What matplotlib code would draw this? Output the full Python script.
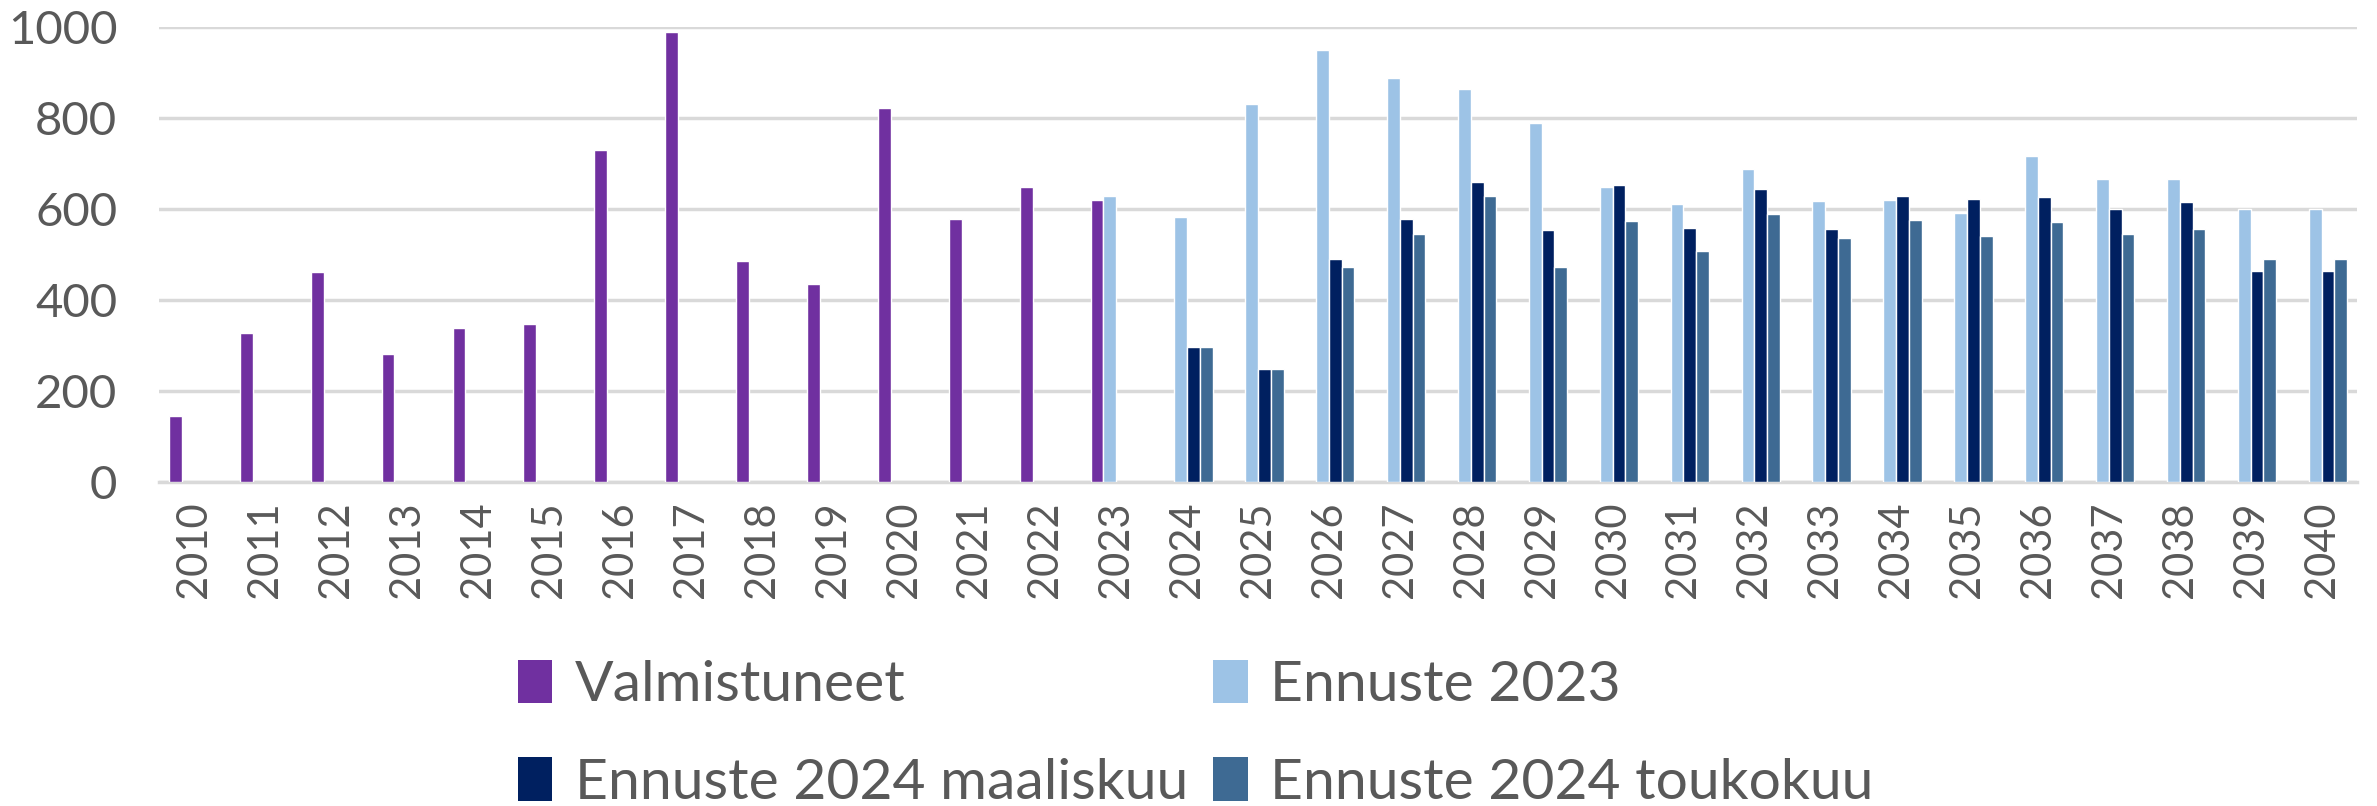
import numpy as np
import matplotlib
matplotlib.use("Agg")
import matplotlib.pyplot as plt

years = list(range(2010, 2041))
nan = np.nan

# Valmistuneet 2010-2023
valmistuneet = [145, 327, 462, 282, 339, 347, 729, 989, 486, 435, 822, 577, 648, 620] + [nan] * 17
# Ennuste 2023: 2023-2040
ennuste_2023 = [nan] * 13 + [629, 583, 830, 949, 888, 863, 788, 649, 610, 689, 617, 619, 592,
                             716, 666, 666, 600, 600]
# Ennuste 2024 maaliskuu: 2024-2040
ennuste_2024_maalis = [nan] * 14 + [296, 248, 489, 577, 660, 554, 652, 559, 643, 555, 629, 621,
                                    626, 600, 615, 464, 464]
# Ennuste 2024 toukokuu: 2024-2040
ennuste_2024_touko = [nan] * 14 + [296, 248, 473, 545, 628, 473, 574, 507, 590, 536, 575, 540,
                                   572, 544, 557, 491, 491]

series_names = ["Valmistuneet", "Ennuste 2023", "Ennuste 2024 maaliskuu", "Ennuste 2024 toukokuu"]
series_colors = ["#7030A0", "#9DC3E6", "#002060", "#3E6A93"]

plt.rcParams['font.family'] = ['Lato', 'DejaVu Sans']
text_color = "#595959"

fig = plt.figure(figsize=(23.77, 8.06), dpi=100)
ax = fig.add_axes([0.0669, 0.402, 0.9247, 0.5645])

x = np.arange(len(years))
pitch = 0.18
bars = []
for i, (vals, col, name) in enumerate(zip(
        [valmistuneet, ennuste_2023, ennuste_2024_maalis, ennuste_2024_touko],
        series_colors, series_names)):
    b = ax.bar(x + (i - 1.5) * pitch, vals, width=pitch, color=col,
               edgecolor="white", linewidth=1.0, label=name, zorder=3)
    bars.append(b)

ax.set_xlim(-0.5, len(years) - 0.5)
ax.set_ylim(0, 1000)
ax.set_yticks(range(0, 1001, 200))
ax.set_xticks(x)
ax.set_xticklabels([str(y) for y in years], rotation=90)
ax.yaxis.grid(True, color="#D9D9D9", linewidth=2.5, zorder=0)
ax.set_axisbelow(True)
for s in ["top", "right", "left"]:
    ax.spines[s].set_visible(False)
ax.spines["bottom"].set_color("#D9D9D9")
ax.spines["bottom"].set_linewidth(2.5)
ax.tick_params(axis="both", length=0, colors=text_color)
ax.tick_params(axis="x", pad=14, labelsize=30)
ax.tick_params(axis="y", pad=30, labelsize=34)

# Excel-like row-major legend order
order = [0, 2, 1, 3]
handles = [bars[i] for i in order]
leg = fig.legend(handles, [series_names[i] for i in order],
                 loc="center", bbox_to_anchor=(0.503, 0.089), ncol=2, frameon=False,
                 fontsize=41, handlelength=0.6, handleheight=0.8, handletextpad=0.4,
                 columnspacing=0.45, labelspacing=0.8, borderpad=0)
for t in leg.get_texts():
    t.set_color(text_color)
for h in leg.legend_handles:
    h.set_linewidth(0)

fig.savefig("out.png", dpi=100)
